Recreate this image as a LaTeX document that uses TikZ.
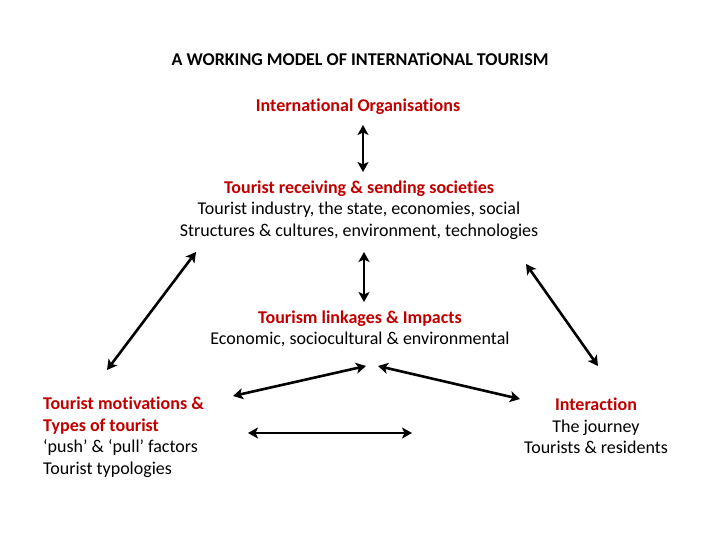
\documentclass[tikz,border=0pt]{standalone}
\usepackage{fontspec}
\setmainfont[Ligatures={TeX,NoCommon}]{Carlito}
\usetikzlibrary{arrows.meta}
\definecolor{hdred}{RGB}{192,0,0}
\tikzset{
  txt/.style={inner sep=0pt, font=\fontsize{18}{21.5}\selectfont, align=center, anchor=center},
  biarrow/.style={{Stealth[length=10pt,width=11pt,inset=2.5pt]}-{Stealth[length=10pt,width=11pt,inset=2.5pt]}, line width=2.6pt, black},
  hd/.style={text=hdred, font=\fontsize{18}{21.5}\selectfont\bfseries}
}
\begin{document}
\begin{tikzpicture}[x=1pt,y=-1pt]
\useasboundingbox (0,0) rectangle (720,540);
\node[txt, font=\fontsize{18}{21.5}\selectfont\bfseries] (title) at (360,59.5) {A WORKING MODEL OF INTERNATiONAL TOURISM};
\node[txt, hd] (org) at (358,106.5) {International Organisations};
\node[txt] (soc) at (359,210) {{\color{hdred}\bfseries Tourist receiving \& sending societies}\\Tourist industry, the state, economies, social\\Structures \& cultures, environment, technologies};
\node[txt] (link) at (360,329) {{\color{hdred}\bfseries Tourism linkages \& Impacts}\\Economic, sociocultural \& environmental};
\node[txt, align=left, anchor=west] (mot) at (43,437) {{\color{hdred}\bfseries Tourist motivations \&}\\{\color{hdred}\bfseries Types of tourist}\\`push' \& `pull' factors\\Tourist typologies};
\node[txt] (int) at (596,426) {{\color{hdred}\bfseries Interaction}\\The journey\\Tourists \& residents};

\coordinate (a1) at (363,125); \coordinate (a2) at (363,172);
\coordinate (b1) at (364,252); \coordinate (b2) at (364,302);
\coordinate (c1) at (196,252); \coordinate (c2) at (107,370);
\coordinate (d1) at (526,264); \coordinate (d2) at (598,366);
\coordinate (e1) at (233,396); \coordinate (e2) at (366,366);
\coordinate (f1) at (378,366); \coordinate (f2) at (520,399);
\coordinate (g1) at (248,433); \coordinate (g2) at (412,433);
\draw[biarrow] (a1) -- (a2);
\draw[biarrow] (b1) -- (b2);
\draw[biarrow] (c1) -- (c2);
\draw[biarrow] (d1) -- (d2);
\draw[biarrow] (e1) -- (e2);
\draw[biarrow] (f1) -- (f2);
\draw[biarrow] (g1) -- (g2);
\end{tikzpicture}
\end{document}
